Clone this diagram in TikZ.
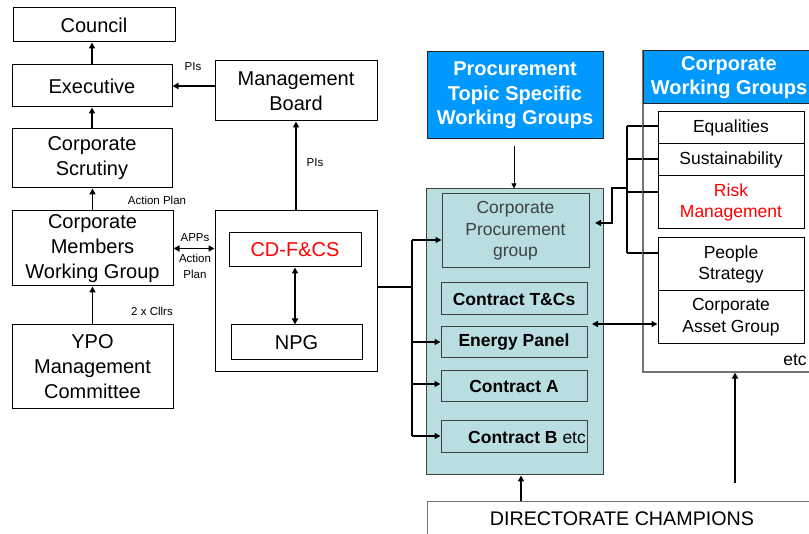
\documentclass[tikz,border=0pt]{standalone}
\usepackage{fontspec}
\setmainfont{Liberation Sans}
\usetikzlibrary{arrows.meta}
\definecolor{hdrblue}{RGB}{0,153,255}
\definecolor{tealfill}{RGB}{185,222,226}
\definecolor{riskred}{RGB}{255,0,0}
\begin{document}
\begin{tikzpicture}[x=1pt,y=-1pt,
  box/.style={draw=black, line width=1pt, inner sep=0pt, align=center, font=\fontsize{20}{25}\selectfont},
  sbox/.style={draw=black!75, line width=1pt, fill=tealfill, inner sep=0pt, align=center, font=\fontsize{17.5}{21.7}\selectfont\bfseries},
  wbox/.style={draw=black, line width=1pt, fill=white, inner sep=0pt, align=center, font=\fontsize{17.5}{21.7}\selectfont},
  hdr/.style={draw=black!85, line width=1pt, fill=hdrblue, text=white, inner sep=0pt, align=center, font=\fontsize{20}{24.5}\selectfont\bfseries},
  grybox/.style={draw=black!55, line width=1.2pt, inner sep=0pt},
  lbl/.style={inner sep=0pt, align=center, font=\fontsize{11.5}{16}\selectfont},
  conn/.style={line width=1.5pt},
  arr/.style={conn, -{Triangle[length=6pt,width=6pt]}},
  darr/.style={conn, {Triangle[length=6pt,width=6pt]}-{Triangle[length=6pt,width=6pt]}},
]
\clip (0,0) rectangle (809,534);

% left column
\node[box, minimum width=162pt, minimum height=34pt] (council) at (94,25) {Council};
\node[box, minimum width=160pt, minimum height=42pt] (exec) at (92,86) {Executive};
\node[box, minimum width=160pt, minimum height=59pt] (scrut) at (92,158.5) {Corporate\\Scrutiny};
\node[box, minimum width=161pt, minimum height=75pt] (cmwg) at (92.5,248.5) {Corporate\\Members\\Working Group};
\node[box, minimum width=161pt, minimum height=84pt] (ypo) at (92.5,367) {YPO\\Management\\Committee};

% middle column
\node[box, minimum width=162pt, minimum height=60pt] (mb) at (296,91) {Management\\Board};
\node[box, minimum width=162pt, minimum height=161pt] (cdbox) at (296,291.5) {};
\node[box, text=riskred, minimum width=132pt, minimum height=34pt] (cdfcs) at (295,250) {CD-F\&CS};
\node[box, minimum width=131pt, minimum height=35pt] (npg) at (296.5,342.5) {NPG};

% procurement
\node[hdr, minimum width=176pt, minimum height=87pt] (ptswg) at (515,95.5) {Procurement\\Topic Specific\\Working Groups};
\node[sbox, minimum width=177pt, minimum height=286pt] (teal) at (514.5,332) {};
\node[sbox, font=\fontsize{17.5}{21.7}\selectfont, text=black!75, minimum width=147pt, minimum height=74pt] (cpg) at (515.5,231) {Corporate\\Procurement\\group};
\node[sbox, minimum width=146pt, minimum height=32pt] (ctc) at (514,299) {Contract T\&Cs};
\node[sbox, minimum width=146pt, minimum height=31pt] (ep) at (514,342.5) {Energy Panel};
\node[sbox, minimum width=146pt, minimum height=31pt] (ca) at (514,386.5) {Contract A};
\node[sbox, minimum width=146pt, minimum height=32pt] (cb) at (514,437) {};
\node[inner sep=0pt, anchor=west, font=\fontsize{17.5}{21.7}\selectfont] (cbtext) at (468,437) {\textbf{Contract B} etc};

% corporate working groups bus
\coordinate (cb1) at (627,126);
\coordinate (cb2) at (627,159);
\coordinate (cb3) at (627,192);
\coordinate (cb4) at (627,253);
\coordinate (cbj) at (627,188);
\coordinate (cbk) at (612,188);
\coordinate (cbl) at (612,223);
\coordinate (cbt) at (595,223);

% corporate working groups
\node[grybox, minimum width=172pt, minimum height=321pt] (cwg) at (729,211.5) {};
\node[wbox, minimum width=146pt, minimum height=32pt] (eq) at (731,128) {Equalities};
\node[wbox, minimum width=146pt, minimum height=32pt] (sus) at (731,160) {Sustainability};
\node[wbox, text=riskred, minimum width=146pt, minimum height=53pt] (risk) at (731,202.5) {Risk\\Management};
\node[wbox, minimum width=146pt, minimum height=53pt] (people) at (731,264.5) {People\\Strategy};
\node[wbox, minimum width=146pt, minimum height=53pt] (cag) at (731,317.5) {Corporate\\Asset Group};
\node[hdr, minimum width=172pt, minimum height=53pt] (cwghdr) at (729,77.5) {Corporate\\Working Groups};
\node[lbl, font=\fontsize{17.5}{21.7}\selectfont] (etc) at (795,360) {etc};

\draw[conn] (cb1) -- (cb4);
\draw[conn] (cb1) -- (cb1 -| eq.west);
\draw[conn] (cb2) -- (cb2 -| sus.west);
\draw[conn] (cb3) -- (cb3 -| risk.west);
\draw[conn] (cb4) -- (cb4 -| people.west);
\draw[arr] (cbj) -- (cbk) -- (cbl) -- (cbt);
\draw[grybox] (cwg.north west) -- (cwg.south west);

% directorate champions
\node[grybox, minimum width=390pt, minimum height=60pt, anchor=north west] (dc) at (427,501) {};
\node[inner sep=0pt, font=\fontsize{19.7}{24}\selectfont] (dctext) at (622,519) {DIRECTORATE CHAMPIONS};

% labels
\node[lbl] (pis1) at (193,67) {PIs};
\node[lbl] (pis2) at (315,163) {PIs};
\node[lbl] (ap1) at (157,200) {Action Plan};
\node[lbl] (apps) at (195,238) {APPs};
\node[lbl] (ap2) at (195,266) {Action\\Plan};
\node[lbl] (cllrs) at (152,311) {2 x Cllrs};

% left arrows
\draw[arr] (exec.north) -- (exec.north |- council.south);
\draw[arr] (scrut.north) -- (scrut.north |- exec.south);
\draw[arr] (cmwg.north) -- (cmwg.north |- scrut.south);
\draw[arr] (ypo.north) -- (ypo.north |- cmwg.south);
\draw[arr] (mb.west |- exec.east) -- (exec.east);
\draw[arr] (cdbox.north) -- (mb.south);
\draw[darr] (cdfcs.south) -- (cdfcs.south |- npg.north);
\draw[darr] (cmwg.east) -- (cmwg.east -| cdbox.west);

% procurement bus
\coordinate (pbus) at (412,287);
\coordinate (pb1) at (412,240);
\coordinate (pb2) at (412,342);
\coordinate (pb3) at (412,384);
\coordinate (pb4) at (412,436);
\draw[conn] (cdbox.east |- pbus) -- (pbus);
\draw[conn] (pb1) -- (pb4);
\draw[arr] (pb1) -- (pb1 -| cpg.west);
\draw[arr] (pb2) -- (pb2 -| ep.west);
\draw[arr] (pb3) -- (pb3 -| ca.west);
\draw[arr] (pb4) -- (pb4 -| cb.west);

% other arrows
\coordinate (ptsend) at (514,146);
\draw[line width=0.9pt, -{Triangle[length=5pt,width=5pt]}] (ptsend) -- (ptsend |- teal.north);
\coordinate (cagl) at (592,324);
\draw[darr] (cagl) -- (cagl -| cag.west);
\coordinate (dcl) at (521,501);
\draw[arr] (dcl) -- (dcl |- teal.south);
\coordinate (dcr) at (735,483);
\draw[arr] (dcr) -- (dcr |- cwg.south);
\end{tikzpicture}
\end{document}
